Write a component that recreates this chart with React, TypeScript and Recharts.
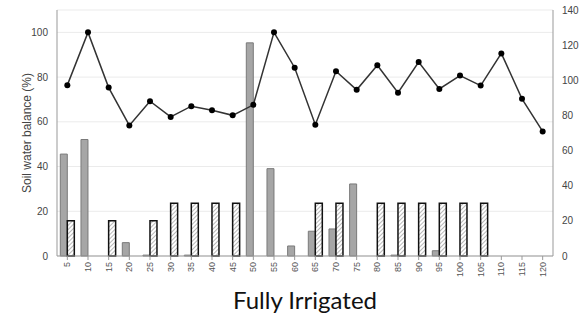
import { Bar, CartesianGrid, ComposedChart, Line, XAxis, YAxis } from 'recharts';

// days after sowing
const days = [5, 10, 15, 20, 25, 30, 35, 40, 45, 50, 55, 60, 65, 70, 75, 80, 85, 90, 95, 100, 105, 110, 115, 120];
// soil water balance (%), left axis
const soilWater = [76.4, 100, 75.3, 58.4, 69.2, 62.2, 67, 65.2, 62.9, 67.6, 100, 84.2, 58.7, 82.6, 74.3, 85.3, 73, 86.7, 74.7, 80.7, 76.2, 90.6, 70.3, 55.7];
// rainfall (mm), right axis
const rainfall = [58, 66.3, 0, 7.6, 0.5, 0, 0.5, 0, 0, 121.3, 49.7, 5.7, 14.1, 15.4, 41, 0, 0.5, 0, 3, 0, 0, 0, 0, 0];
// irrigation (mm), right axis
const irrigation = [20, 0, 20, 0, 20, 30, 30, 30, 30, 0, 0, 0, 30, 30, 0, 30, 30, 30, 30, 30, 30, 0, 0, 0];

const leftTicks = [0, 20, 40, 60, 80, 100];
const rightTicks = [0, 20, 40, 60, 80, 100, 120, 140];

const data = days.map((d, i) => ({
  day: d,
  swb: soilWater[i],
  rain: rainfall[i],
  irr: irrigation[i],
}));

const axisFont = { fontFamily: '"Liberation Sans", Arial, sans-serif', fontSize: 10, fill: '#444' };

const DayTick = ({ x, y, payload }: any) => (
  <text
    x={x}
    y={y}
    transform={`rotate(-90, ${x}, ${y})`}
    textAnchor="end"
    dy="0.35em"
    fontFamily='"Liberation Sans", Arial, sans-serif'
    fontSize={9}
    fill="#555"
  >
    {payload.value}
  </text>
);

const App = () => {
  return (
    <div style={{ position: 'absolute', left: 0, top: 0, width: 585, height: 322, background: '#fff' }}>
      <ComposedChart
        width={585}
        height={322}
        data={data}
        margin={{ top: 10, right: 0, left: 0, bottom: 36 }}
        barCategoryGap="16%"
        barGap={0}
      >
        <defs>
          <pattern id="hatch" patternUnits="userSpaceOnUse" width="3" height="3" patternTransform="rotate(45)">
            <rect width="3" height="3" fill="#fff" />
            <line x1="0" y1="0" x2="0" y2="3" stroke="#888" strokeWidth="1.2" />
          </pattern>
        </defs>
        <CartesianGrid yAxisId="left" vertical={false} stroke="#ebebeb" strokeWidth={1} />
        <XAxis
          dataKey="day"
          height={30}
          tickSize={4}
          tickMargin={2}
          interval={0}
          axisLine={{ stroke: '#999' }}
          tickLine={{ stroke: '#999' }}
          tick={<DayTick />}
        />
        <YAxis
          yAxisId="left"
          width={57}
          domain={[0, 110]}
          ticks={leftTicks}
          tickSize={0}
          tickMargin={9}
          tickLine={false}
          axisLine={{ stroke: '#999' }}
          tick={axisFont}
          label={{
            value: 'Soil water balance (%)',
            angle: -90,
            position: 'insideLeft',
            offset: 27,
            style: { fontFamily: '"Liberation Sans", Arial, sans-serif', fontSize: 12, fill: '#444', textAnchor: 'middle' },
          }}
        />
        <YAxis
          yAxisId="right"
          orientation="right"
          width={32}
          domain={[0, 140]}
          ticks={rightTicks}
          tickSize={0}
          tickMargin={9}
          tickLine={false}
          axisLine={{ stroke: '#999' }}
          tick={axisFont}
        />
        <Bar yAxisId="right" dataKey="rain" fill="#a6a6a6" stroke="#7a7a7a" strokeWidth={1} isAnimationActive={false} />
        <Bar yAxisId="right" dataKey="irr" fill="url(#hatch)" stroke="#111" strokeWidth={1.5} isAnimationActive={false} />
        <Line
          yAxisId="left"
          type="linear"
          dataKey="swb"
          stroke="#333"
          strokeWidth={1.5}
          dot={{ r: 3, fill: '#000', stroke: '#000', strokeWidth: 0 }}
          isAnimationActive={false}
        />
      </ComposedChart>
      <div
        style={{
          position: 'absolute',
          left: 0,
          top: 286,
          width: 610,
          textAlign: 'center',
          fontFamily: 'Lato, "Open Sans", sans-serif',
          fontSize: 24,
          lineHeight: 1.2,
          color: '#111',
        }}
      >
        Fully Irrigated
      </div>
    </div>
  );
};

export default App;
